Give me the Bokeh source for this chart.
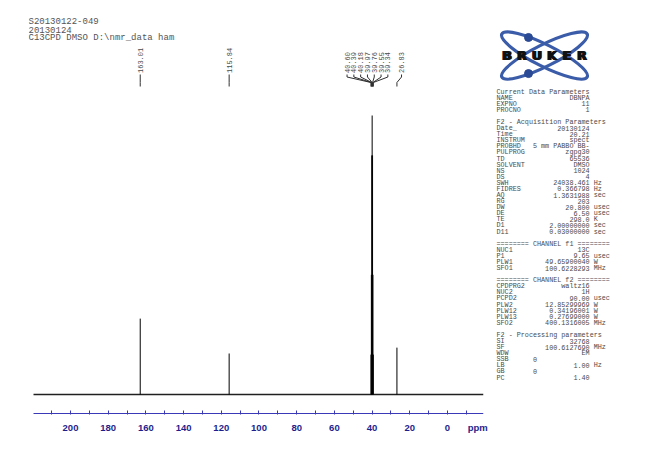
import math
from bokeh.plotting import figure
from bokeh.models import Range1d, FixedTicker
from bokeh.core.properties import value
from bokeh.layouts import row
from bokeh.embed import file_html
from bokeh.resources import INLINE

# ------------------------------------------------------------------ data
peak_ppm = [163.01, 115.84, 40.60, 40.39, 40.18, 39.97, 39.76, 39.55, 39.34, 26.83]
peak_int = [27.2, 14.7, 14.3, 42.9, 85.7, 100.0, 85.7, 42.9, 14.3, 16.8]
peak_labels = ["163.01", "115.84", "40.60", "40.39", "40.18", "39.97",
               "39.76", "39.55", "39.34", "26.83"]
ppm_window = [219.63, -19.10]
major_ticks = [200, 180, 160, 140, 120, 100, 80, 60, 40, 20, 0]
minor_ticks = [210, 200, 190, 180, 170, 160, 150, 140, 130, 120, 110, 100,
               90, 80, 70, 60, 50, 40, 30, 20, 10, 0, -10]
unit_label = "ppm"
unit_label_pos = -16

header_lines = ["S20130122-049", "20130124", "C13CPD DMSO D:\\nmr_data ham"]
logo_text = "BRUKER"

param_names = [
    "Current Data Parameters", "NAME", "EXPNO", "PROCNO", "",
    "F2 - Acquisition Parameters", "Date_", "Time", "INSTRUM", "PROBHD",
    "PULPROG", "TD", "SOLVENT", "NS", "DS", "SWH", "FIDRES", "AQ", "RG",
    "DW", "DE", "TE", "D1", "D11", "",
    "======== CHANNEL f1 ========", "NUC1", "P1", "PLW1", "SFO1", "",
    "======== CHANNEL f2 ========", "CPDPRG2", "NUC2", "PCPD2", "PLW2",
    "PLW12", "PLW13", "SFO2", "",
    "F2 - Processing parameters", "SI", "SF", "WDW", "SSB", "LB", "GB", "PC",
]
param_values = [
    "", "DBNPA", "11", "1", "",
    "", "20130124", "20.21", "spect", "5 mm PABBO BB-",
    "zgpg30", "65536", "DMSO", "1024", "4", "24038.461", "0.366798",
    "1.3631988", "203", "20.800", "6.50", "298.0", "2.00000000",
    "0.03000000", "",
    "", "13C", "9.65", "49.65900040", "100.6228293", "",
    "", "waltz16", "1H", "90.00", "12.85299969", "0.34196001",
    "0.27699000", "400.1316005", "",
    "", "32768", "100.6127690", "EM", "0", "1.00", "0", "1.40",
]
param_units = [
    "", "", "", "", "",
    "", "", "", "", "", "", "", "", "", "", "Hz", "Hz", "sec", "",
    "usec", "usec", "K", "sec", "sec", "",
    "", "", "usec", "W", "MHz", "",
    "", "", "", "usec", "W", "W", "W", "MHz", "",
    "", "", "MHz", "", "", "Hz", "", "",
]

# ------------------------------------------------------------------ layout
H = 459
WL = 490
WR = 160
FRAME_X0 = 28          # image px of frame left (room for the header)
SPEC_X0 = 33           # image px where the spectrum/axis starts
SPEC_X1 = 483
FRAME_TOP = 0
FRAME_BOT = 414
AXIS_Y = 413
BASE_Y = 394           # image px of zero intensity
PX_PER_UNIT = 2.79
PX_PER_PPM = (SPEC_X1 - SPEC_X0) / (ppm_window[0] - ppm_window[1])


def xdata(ix):
    return ppm_window[0] - (ix - SPEC_X0) / PX_PER_PPM


def xpix(ppm):
    return SPEC_X0 + (ppm_window[0] - ppm) * PX_PER_PPM


def ydata(iy):
    return (BASE_Y - iy) / PX_PER_UNIT


AXIS_BLUE = "#3a3ab8"
LABEL_BLUE = "#1e1e8c"
TEXT_GRAY = "#4a4a4a"
MONO = value("Liberation Mono")

p = figure(width=WL, height=H, title=None,
           x_range=Range1d(xdata(FRAME_X0), ppm_window[1]),
           y_range=Range1d(ydata(FRAME_BOT), ydata(FRAME_TOP)),
           output_backend="svg", toolbar_location=None,
           y_axis_location=None,
           min_border_left=FRAME_X0,
           min_border_right=WL - SPEC_X1,
           min_border_top=FRAME_TOP,
           min_border_bottom=H - FRAME_BOT)
p.outline_line_color = None
p.xgrid.visible = False
p.ygrid.visible = False
p.background_fill_color = "white"
p.border_fill_color = "white"

ax = p.xaxis[0]
ax.ticker = FixedTicker(ticks=major_ticks + [unit_label_pos], minor_ticks=minor_ticks)
ax.major_label_overrides = {unit_label_pos: unit_label}
ax.axis_line_color = None
ax.major_tick_line_color = None
ax.major_tick_in = 0
ax.major_tick_out = 0
ax.minor_tick_line_color = AXIS_BLUE
ax.minor_tick_in = 4
ax.minor_tick_out = 0
ax.major_label_text_font = "Liberation Sans"
ax.major_label_text_font_style = "bold"
ax.major_label_text_font_size = "9.5px"
ax.major_label_text_color = LABEL_BLUE
ax.major_label_standoff = 7

# axis line over the spectral window only
p.line(x=ppm_window, y=[ydata(AXIS_Y)] * 2, line_color=AXIS_BLUE, line_width=1)

# spectrum: baseline + peaks
p.line(x=ppm_window, y=[0, 0], line_color="#202020", line_width=1.6)
p.segment(x0=peak_ppm, y0=[0] * len(peak_ppm), x1=peak_ppm, y1=peak_int,
          line_color="black", line_width=1)

# peak label layout (screen positions derived from peak positions)
peak_px = [xpix(v) for v in peak_ppm]
dmso_idx = [2, 3, 4, 5, 6, 7, 8]
gap = 6.8
dmso_center = sum(peak_px[i] for i in dmso_idx) / len(dmso_idx) - 4.7
label_px = list(peak_px)
for k, i in enumerate(dmso_idx):
    label_px[i] = dmso_center + (k - 3) * gap
label_px[9] = peak_px[9] + 4.6

p.text(x=[xdata(v) for v in label_px], y=[ydata(72.5)] * len(label_px),
       text=peak_labels, angle=math.pi / 2, text_align="left",
       text_baseline="middle", text_font=MONO,
       text_font_size="7px", text_color=TEXT_GRAY)

xs, ys = [], []
for lx, px in zip(label_px, peak_px):
    xs.append([xdata(lx), xdata(lx), xdata(px), xdata(px)])
    ys.append([ydata(74), ydata(76.5), ydata(82), ydata(86)])
p.multi_line(xs=xs, ys=ys, line_color="#303030", line_width=1)

p.text(x=[xdata(28)] * len(header_lines),
       y=[ydata(21.2 + 8.1 * k) for k in range(len(header_lines))],
       text=header_lines, text_baseline="middle", text_align="left",
       text_font=MONO, text_font_size="9px", text_color="#555555")

# ------------------------------------------------------------------ right panel
X0R = WL
q = figure(width=WR, height=H, title=None,
           x_range=Range1d(X0R, X0R + WR), y_range=Range1d(0, H),
           output_backend="svg", toolbar_location=None,
           x_axis_location=None, y_axis_location=None,
           min_border=0)
q.outline_line_color = None
q.xgrid.visible = False
q.ygrid.visible = False
q.border_fill_color = "white"


def qy(iy):
    return H - iy


# logo
LCX, LCY = 544, 61
q.ellipse(x=[LCX, LCX], y=[qy(LCY), qy(LCY)], width=95.6, height=24,
          angle=[-0.466, 0.466], fill_color=None, line_color="#3b5ca8",
          line_width=3.2)
q.scatter(x=[LCX - 16, LCX - 16], y=[qy(LCY - 20), qy(LCY + 20)], size=8,
          fill_color="#2b4a96", line_color="#2b4a96")
letters = list(logo_text)
for dx in (-0.9, 0.0, 0.9):
    q.text(x=[LCX - 37.5 + 15 * k + dx for k in range(len(letters))],
           y=[qy(LCY + 0.5)] * len(letters),
           text=letters, text_align="center", text_baseline="middle",
           text_font=value("DejaVu Sans"), text_font_style="bold",
           text_font_size="12.5px", text_color="#111111")

# parameter listing
CW = 4.05
NX = 496
ROW0 = 101
ROWH = 6.745
nx, ny, nt = [], [], []
vx, vy, vt = [], [], []
sx, sy, st = [], [], []
ux, uy, ut = [], [], []
for i, (n, v, u) in enumerate(zip(param_names, param_values, param_units)):
    yy = qy(ROW0 + i * ROWH)
    if n:
        nx.append(NX); ny.append(yy); nt.append(n)
    if v:
        if n in ("SSB", "GB"):
            sx.append(NX + 9 * CW); sy.append(yy); st.append(v)
        else:
            vx.append(NX + 23 * CW); vy.append(yy); vt.append(v)
    if u:
        ux.append(NX + 24 * CW); uy.append(yy); ut.append(u)

common = dict(text_baseline="middle", text_font=MONO,
              text_font_size="6.75px", text_color=TEXT_GRAY)
q.text(x=nx, y=ny, text=nt, text_align="left", **common)
q.text(x=vx, y=vy, text=vt, text_align="right", **common)
q.text(x=sx, y=sy, text=st, text_align="left", **common)
q.text(x=ux, y=uy, text=ut, text_align="left", **common)

layout = row(p, q)
open("out.html", "w").write(file_html(layout, INLINE))
